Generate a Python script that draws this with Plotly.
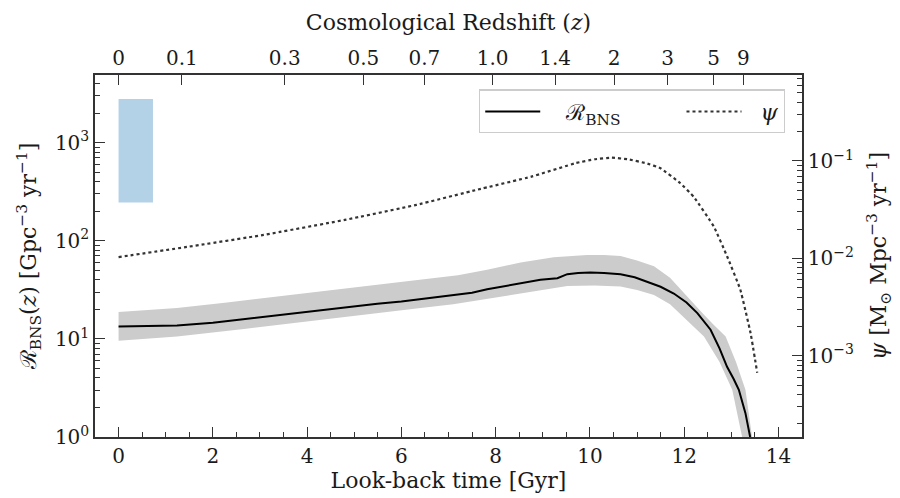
import numpy as np
import plotly.graph_objects as go

# ---------------- data ----------------
# BNS merger rate, median curve (look-back time [Gyr], rate [Gpc^-3 yr^-1])
t_rate = [0.0, 1.24, 2.0, 2.66, 3.4, 4.07, 4.8, 5.49, 6.0, 6.41, 7.0, 7.5, 7.82, 8.2, 8.5, 8.95, 9.31, 9.52,
          9.75, 10.01, 10.3, 10.65, 10.95, 11.22, 11.5, 11.78, 12.05, 12.28, 12.56, 12.75, 12.91, 13.05, 13.16, 13.30, 13.40]
rate = [13.4, 13.7, 14.6, 15.9, 17.5, 19.0, 20.9, 22.8, 24.0, 25.4, 27.5, 29.5, 32.1, 34.5, 36.5, 40.0, 41.6, 45.7,
        47.0, 47.5, 47.0, 45.7, 42.5, 38.4, 34.0, 29.0, 23.5, 18.3, 12.4, 8.0, 5.2, 3.9, 3.03, 1.75, 1.0]

# uncertainty band: upper edge
t_up = [0.0, 1.24, 2.3, 3.37, 4.9, 6.41, 7.2, 7.82, 8.53, 9.23, 9.6, 9.94, 10.3, 10.65, 11.0, 11.36,
        11.7, 12.06, 12.40, 12.62, 12.88, 13.10, 13.30, 13.44]
rate_up = [18.8, 20.6, 23.5, 27.0, 33.0, 40.6, 44.5, 50.6, 60.0, 68.0, 70.5, 71.8, 71.5, 70.0, 63.0, 55.0,
           42.0, 27.0, 18.0, 14.0, 10.6, 5.8, 3.03, 1.0]
# uncertainty band: lower edge
t_lo = [0.0, 1.24, 2.66, 4.07, 5.3, 6.41, 7.1, 7.82, 8.53, 9.23, 9.52, 10.1, 10.65, 11.0, 11.36,
        11.7, 12.06, 12.42, 12.75, 13.02, 13.23]
rate_lo = [9.6, 10.6, 12.6, 15.0, 17.8, 20.6, 22.5, 25.4, 29.3, 32.9, 34.7, 35.0, 34.2, 31.5, 28.0,
           22.5, 15.6, 10.6, 5.8, 3.03, 1.0]

# star formation rate density psi [Msun Mpc^-3 yr^-1]
t_psi = [0.0, 1.5, 3.08, 4.8, 6.32, 7.6, 8.76, 9.7, 10.1, 10.46, 10.8, 11.2, 11.5, 11.92,
         12.2, 12.63, 12.91, 13.19, 13.41, 13.55]
psi = [0.0103, 0.0132, 0.0174, 0.0248, 0.0354, 0.0505, 0.069, 0.095, 0.104, 0.108, 0.104,
       0.0946, 0.084, 0.059, 0.043, 0.0212, 0.0105, 0.0048, 0.0017, 0.00067]

# local rate constraint box
box_t = [0.0, 0.73]
box_rate = [245.0, 2790.0]

# top axis redshift ticks
z_ticks = [0, 0.1, 0.3, 0.5, 0.7, 1.0, 1.4, 2, 3, 5, 9]
z_labels = ["0", "0.1", "0.3", "0.5", "0.7", "1.0", "1.4", "2", "3", "5", "9"]

# cosmology (flat LCDM, Planck15) for placing redshift ticks on the look-back axis
H0 = 67.74
OM = 0.3089


def lookback_gyr(z):
    if z == 0:
        return 0.0
    zz = np.linspace(0.0, z, 4001)
    f = 1.0 / ((1 + zz) * np.sqrt(OM * (1 + zz) ** 3 + (1 - OM)))
    return 977.79 / H0 * np.trapezoid(f, zz)


z_pos = [lookback_gyr(z) for z in z_ticks]

FONT = "DejaVu Serif"
AX = "#333333"
TXT = "#1a1a1a"

fig = go.Figure()

# band
fig.add_trace(go.Scatter(
    x=t_up + t_lo[::-1], y=rate_up + rate_lo[::-1],
    fill="toself", fillcolor="#cccccc", line=dict(width=0),
    mode="lines", showlegend=False, hoverinfo="skip"))

# local rate box
fig.add_trace(go.Scatter(
    x=[box_t[0], box_t[1], box_t[1], box_t[0], box_t[0]],
    y=[box_rate[0], box_rate[0], box_rate[1], box_rate[1], box_rate[0]],
    fill="toself", fillcolor="#b3d1e7", line=dict(width=0),
    mode="lines", showlegend=False, hoverinfo="skip"))

# median rate
fig.add_trace(go.Scatter(
    x=t_rate, y=rate, mode="lines", name="\u00a0\u00a0\u00a0ℛ<sub>BNS</sub>\u00a0\u00a0\u00a0\u00a0\u00a0\u00a0\u00a0\u00a0",
    line=dict(color="black", width=2)))

# psi on right axis
fig.add_trace(go.Scatter(
    x=t_psi, y=psi, mode="lines", name="\u00a0\u00a0<i>ψ</i>", yaxis="y2",
    line=dict(color="#333333", width=2.2, dash="dot", shape="spline", smoothing=0.3)))

# invisible trace to activate top axis
fig.add_trace(go.Scatter(x=[0], y=[1], xaxis="x2", mode="markers",
                         marker=dict(opacity=0), showlegend=False, hoverinfo="skip"))

tickfont = dict(family=FONT, size=20, color=TXT)
titlefont = dict(family=FONT, size=22, color=TXT)

left_vals = [1, 10, 100, 1000]
left_txt = ["10<sup>0</sup>", "10<sup>1</sup>", "10<sup>2</sup>", "10<sup>3</sup>"]
left_minor = [m * 10 ** e for e in range(0, 4) for m in range(2, 10)]

right_vals = [1e-3, 1e-2, 1e-1]
right_txt = ["10<sup>−3</sup>", "10<sup>−2</sup>", "10<sup>−1</sup>"]
right_minor = [m * 10.0 ** e for e in range(-4, 0) for m in range(2, 10)]

fig.update_layout(
    width=900, height=498,
    margin=dict(l=95, r=98, t=75, b=61),
    paper_bgcolor="white", plot_bgcolor="white",
    font=dict(family=FONT, size=20, color=TXT),
    xaxis=dict(
        range=[-0.5, 14.5], tickvals=list(range(0, 15, 2)),
        ticks="inside", ticklen=10, tickwidth=1.2, tickcolor=AX,
        minor=dict(ticks="inside", ticklen=5, tickwidth=1, tickcolor=AX, dtick=0.5),
        showline=True, linecolor=AX, linewidth=1.5, mirror=False,
        showgrid=False, zeroline=False, tickfont=tickfont,
        title=dict(text="Look-back time [Gyr]", font=titlefont, standoff=4)),
    xaxis2=dict(
        overlaying="x", side="top", range=[-0.5, 14.5],
        tickvals=z_pos, ticktext=z_labels,
        ticks="inside", ticklen=10, tickwidth=1.2, tickcolor=AX,
        showline=True, linecolor=AX, linewidth=1.5,
        showgrid=False, zeroline=False, tickfont=tickfont,
        title=dict(text="Cosmological Redshift (<i>z</i>)", font=titlefont, standoff=10)),
    yaxis=dict(
        type="log", range=[0, 3.69],
        tickvals=left_vals, ticktext=left_txt,
        ticks="inside", ticklen=10, tickwidth=1.2, tickcolor=AX,
        minor=dict(ticks="inside", ticklen=5, tickwidth=1, tickcolor=AX, tickvals=left_minor),
        showline=True, linecolor=AX, linewidth=1.5,
        showgrid=False, zeroline=False, tickfont=tickfont,
        title=dict(text="ℛ<sub>BNS</sub>(<i>z</i>) [Gpc<sup>−3</sup> yr<sup>−1</sup>]",
                   font=titlefont, standoff=12)),
    yaxis2=dict(
        type="log", range=[-3.834, -0.118], overlaying="y", side="right",
        tickvals=right_vals, ticktext=right_txt,
        ticks="inside", ticklen=10, tickwidth=1.2, tickcolor=AX,
        minor=dict(ticks="inside", ticklen=5, tickwidth=1, tickcolor=AX, tickvals=right_minor),
        showline=True, linecolor=AX, linewidth=1.5,
        showgrid=False, zeroline=False, tickfont=tickfont,
        title=dict(text="<i>ψ</i> [M<sub>⊙</sub> Mpc<sup>−3</sup> yr<sup>−1</sup>]",
                   font=titlefont, standoff=18)),
    legend=dict(
        orientation="h", x=0.976, xanchor="right", y=0.96, yanchor="top",
        bgcolor="rgba(255,255,255,1)", bordercolor="#cccccc", borderwidth=1.2,
        font=dict(family=FONT, size=22, color=TXT),
        itemwidth=55, traceorder="normal"),
    showlegend=True,
)

fig.write_html("out.html")
